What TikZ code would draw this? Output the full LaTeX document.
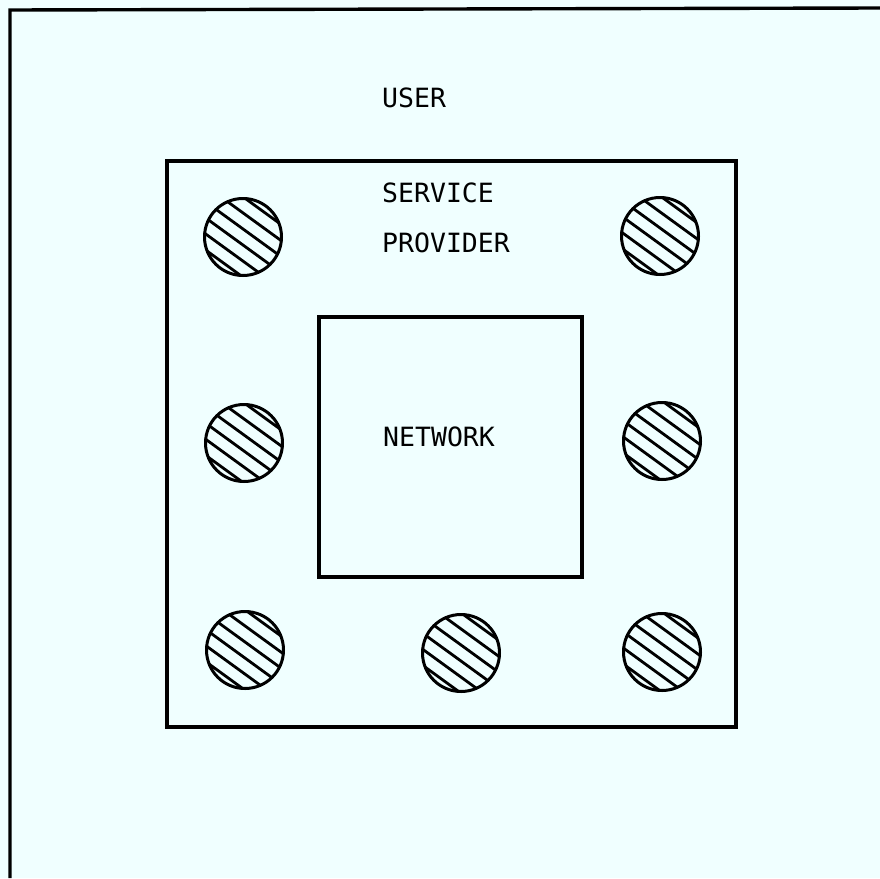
\documentclass[tikz,border=0pt]{standalone}
\usepackage{fontspec}
\newfontfamily\typefont{DejaVu Sans Mono}
\definecolor{paper}{RGB}{240,255,255}

\tikzset{
  boxline/.style={line width=3.4pt},
  ring/.style={line width=3pt},
  hatch/.style={line width=2.8pt},
  caption/.style={anchor=base west,inner sep=0pt,
    font=\typefont\fontsize{26.5}{30}\selectfont}
}

\begin{document}
\begin{tikzpicture}[x=1pt,y=-1pt]
  \fill[paper] (0,0) rectangle (880,878);
  \useasboundingbox (0,0) rectangle (880,878);
  % user area, cut by the page at right and bottom
  \draw[boxline] (10,878) -- (10,10) -- (880,8);
  % service provider and network boxes
  \draw[boxline] (167,161) rectangle (736,727);
  \draw[boxline] (319,317) rectangle (582,577);
  \node[caption] (user) at (382,107) {USER};
  \node[caption] (service) at (382,202) {SERVICE};
  \node[caption] (provider) at (382,252) {PROVIDER};
  \node[caption] (network) at (383,446) {NETWORK};
  % hatched discs
  \foreach \cx/\cy in {243/237,660/236,244/443,662/441,245/650,461/653,662/652} {
    \begin{scope}[shift={(\cx,\cy)}]
      \begin{scope}
        \clip (0,0) circle (38.5);
        \begin{scope}[rotate=-36]
          \foreach \d in {-32.5,-19.5,...,33}
            \draw[hatch] (-50,\d) -- (50,\d);
        \end{scope}
      \end{scope}
      \draw[ring] (0,0) circle (38.5);
    \end{scope}
  }
\end{tikzpicture}
\end{document}
